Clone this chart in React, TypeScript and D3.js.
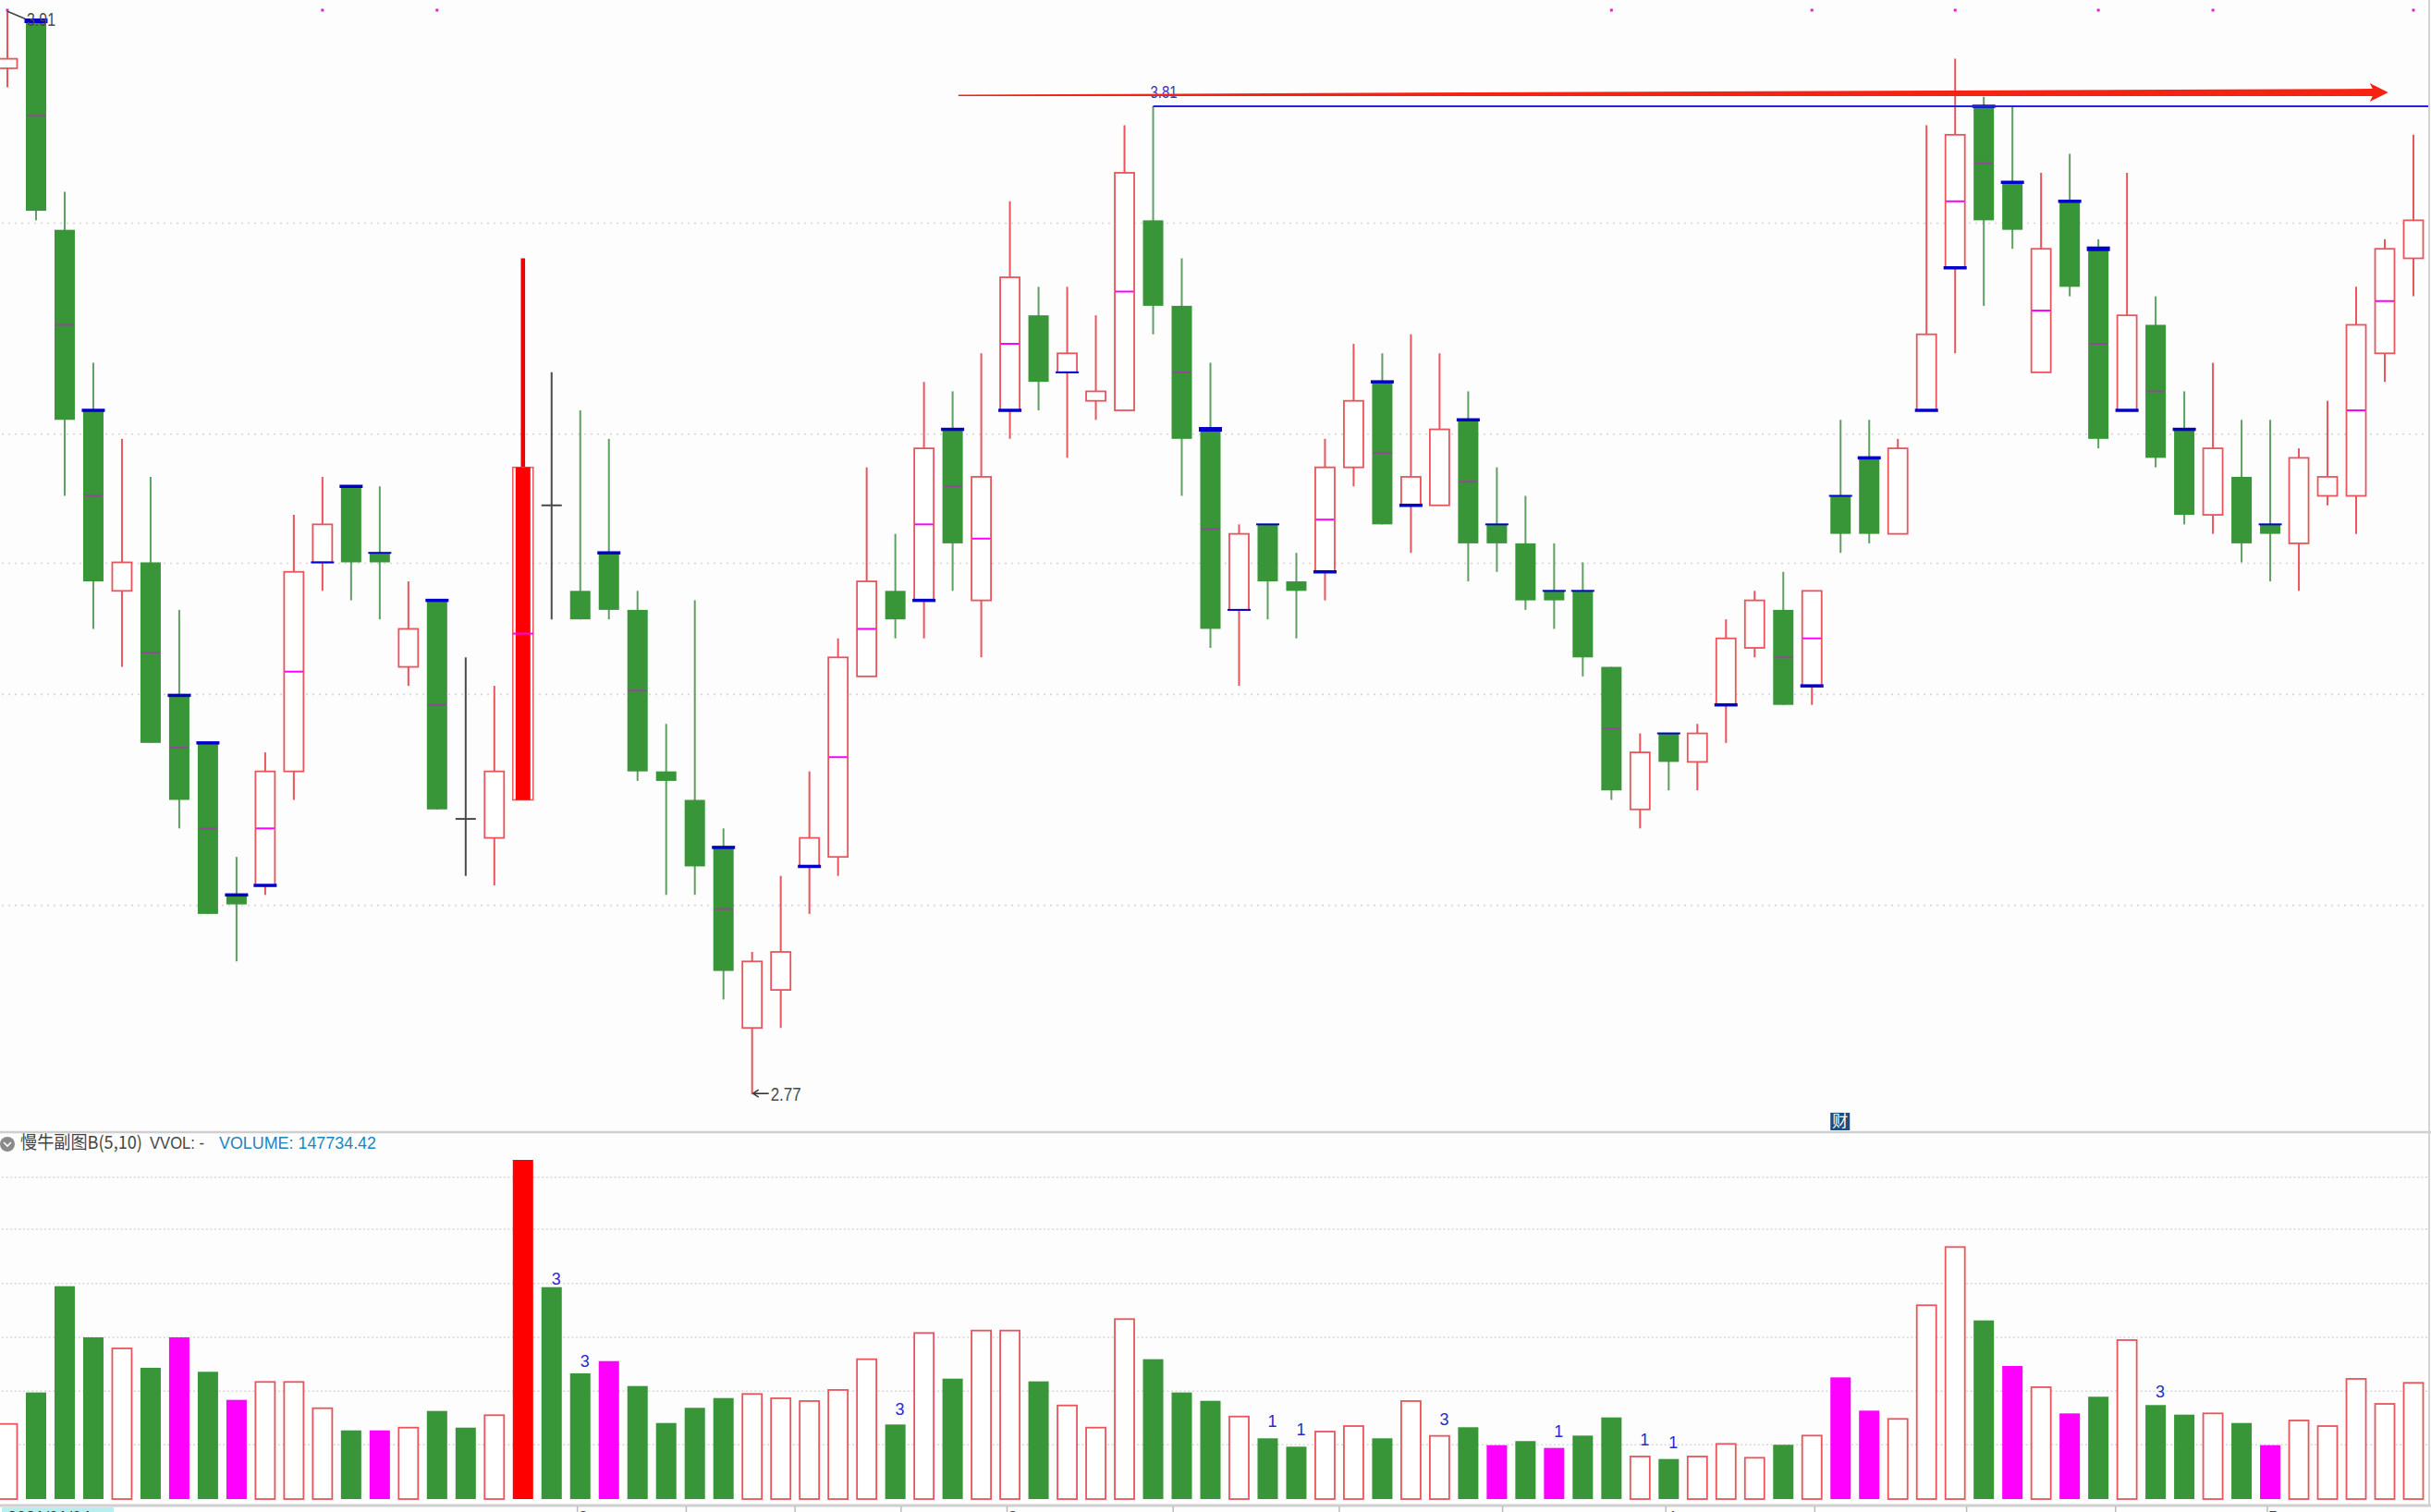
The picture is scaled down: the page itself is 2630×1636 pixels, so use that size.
import React from 'react';
import * as d3 from 'd3';

// daily bars (cents)
const opens = [3.85,3.90,3.68,3.49,3.30,3.33,3.19,3.14,2.98,2.99,3.11,3.33,3.41,3.34,3.22,3.29,3.06,3.04,3.08,3.39,3.30,3.34,3.28,3.11,3.08,3.03,2.84,2.88,3.01,3.02,3.21,3.30,3.29,3.47,3.29,3.49,3.59,3.53,3.50,3.49,3.69,3.60,3.47,3.28,3.37,3.31,3.32,3.43,3.52,3.39,3.39,3.48,3.37,3.35,3.30,3.30,3.22,3.07,3.15,3.12,3.18,3.24,3.28,3.20,3.40,3.44,3.36,3.49,3.64,3.81,3.73,3.53,3.71,3.66,3.49,3.58,3.47,3.38,3.42,3.37,3.35,3.40,3.40,3.55,3.65];
const closes = [3.86,3.70,3.48,3.31,3.33,3.14,3.08,2.96,2.97,3.11,3.32,3.37,3.33,3.33,3.26,3.07,3.06,3.11,3.43,3.39,3.27,3.28,3.11,3.10,3.01,2.90,2.91,2.92,3.04,3.23,3.31,3.27,3.45,3.35,3.42,3.63,3.52,3.55,3.51,3.74,3.60,3.46,3.26,3.36,3.31,3.30,3.43,3.50,3.37,3.42,3.47,3.35,3.35,3.29,3.29,3.23,3.09,3.13,3.12,3.15,3.25,3.29,3.18,3.30,3.36,3.36,3.45,3.57,3.78,3.69,3.68,3.66,3.62,3.46,3.59,3.44,3.38,3.45,3.35,3.36,3.44,3.42,3.58,3.66,3.69];
const highs = [3.91,3.90,3.72,3.54,3.46,3.42,3.28,3.14,3.02,3.13,3.38,3.42,3.41,3.41,3.31,3.29,3.23,3.20,3.65,3.53,3.49,3.46,3.30,3.16,3.29,3.05,2.92,3.00,3.11,3.25,3.43,3.36,3.52,3.51,3.55,3.71,3.62,3.62,3.59,3.79,3.81,3.65,3.54,3.37,3.37,3.34,3.46,3.56,3.55,3.57,3.55,3.51,3.43,3.40,3.35,3.33,3.22,3.15,3.15,3.16,3.27,3.30,3.32,3.30,3.48,3.48,3.46,3.79,3.86,3.82,3.81,3.74,3.76,3.67,3.74,3.61,3.51,3.54,3.48,3.48,3.45,3.50,3.62,3.67,3.78];
const lows = [3.83,3.69,3.40,3.26,3.22,3.14,3.05,2.96,2.91,2.98,3.08,3.30,3.29,3.27,3.20,3.07,3.00,2.99,3.08,3.27,3.27,3.27,3.10,2.98,2.98,2.87,2.77,2.84,2.96,3.00,3.21,3.25,3.25,3.30,3.23,3.46,3.49,3.44,3.48,3.49,3.57,3.40,3.24,3.20,3.27,3.25,3.29,3.41,3.37,3.34,3.39,3.31,3.32,3.28,3.26,3.21,3.08,3.05,3.09,3.09,3.14,3.23,3.18,3.18,3.34,3.35,3.36,3.49,3.55,3.60,3.66,3.53,3.61,3.45,3.49,3.43,3.37,3.36,3.33,3.31,3.30,3.39,3.36,3.52,3.61];
const volumes = [95500,135500,270600,205600,191500,166900,205600,161800,126100,148900,148900,115500,87300,87300,90800,112000,90800,106600,431200,269400,159800,175400,143700,96700,116000,128400,133600,128100,124600,138700,177800,94800,211100,153100,214200,214200,149600,119000,90800,228800,177800,135500,124900,104900,77200,66600,85800,92800,77200,124600,80300,91300,68500,73700,65000,80700,103800,54100,50900,54100,70100,52500,69000,80700,154700,112400,101900,246400,320400,227100,169200,142200,108900,130100,202100,119500,107300,108900,96700,68500,99900,92800,152800,121000,147734];

const midBars = [1,2,3,5,6,7,9,10,15,18,22,25,29,30,32,33,34,35,39,41,42,46,48,51,56,62,63,68,69,71,73,75,82,83];
const capBars = [1,3,6,7,8,9,11,12,13,15,21,25,28,32,33,35,37,42,43,44,46,48,49,51,52,54,55,58,60,63,64,65,67,68,69,70,72,73,74,76,79];
const thinCaps = [11,13,37,43,44,52,54,55,58,64,79];
const thickCaps = [1,42,73];
const dotBars = [0,11,15,56,63,68,73,77,84];
const magentaVolBars = [6,8,13,21,52,54,64,65,70,72,79];
const strongBar = 18;

const volMarks: [number, string, number][] = [
  [19,'3',10],[20,'3',14],[31,'3',17],[44,'1',19],[45,'1',19],[50,'3',19],[54,'1',19],[57,'1',19],[58,'1',19],[75,'3',15]
];

const priceGrid = [3.687,3.465,3.329,3.191,2.969];
const volGrid = [69000,137100,205600,274100,343100,409200];
const dateTicks = [19.9,23.7,27.5,31.2,34.9,40.7,46.5,52.2,57.9,63.1,68.4,73.6,78.9];
const monthLabels: [number, string][] = [[19.9,'2'],[34.9,'3'],[57.9,'4'],[78.9,'5']];

const W = 2630;
const H = 1636;
const GREEN = '#389638';
const GREEN_WICK = '#5f9f62';
const RED_LINE = '#e9555c';
const BLUE = '#0000c8';
const FONT = '"Liberation Sans", Arial, sans-serif';

const x = d3.scaleLinear().domain([0, 84]).range([8, 2611]);
const y = d3.scaleLinear().domain([2.77, 3.91]).range([1184.2, 12.2]);
const yVol = d3.scaleLinear().domain([0, 431200]).range([1622, 1255]);

const BODY = 22;

function arrowPath() {
  // tapered annotation arrow, from 3.82 up to the right
  const x0 = x(33.2), y0 = y(3.8215);
  const x1 = x(83.12), y1 = y(3.8246);
  const headX = x1 - 17;
  const t = d3.scaleLinear().domain([x0, x1]).range([y0, y1]);
  return `M${x0},${y0 - 0.8}L${headX},${t(headX) - 4}L${headX - 3},${t(headX) - 10}L${x1},${y1}L${headX - 3},${t(headX) + 10}L${headX},${t(headX) + 4}L${x0},${y0 + 0.8}Z`;
}

const App: React.FC = () => {
  return (
    <svg
      width={W}
      height={H}
      viewBox={`0 0 ${W} ${H}`}
      style={{ position: 'fixed', left: 0, top: 0, background: '#fdfdfd' }}
      fontFamily={FONT}
    >
      {/* grids */}
      {priceGrid.map(p => (
        <line key={p} x1={2} x2={W - 2} y1={y(p)} y2={y(p)} stroke="#d6d6d6" strokeWidth={1.6} strokeDasharray="2 5" />
      ))}
      {volGrid.map(v => (
        <line key={v} x1={2} x2={W - 2} y1={yVol(v)} y2={yVol(v)} stroke="#d8d8d8" strokeWidth={1.6} strokeDasharray="2 2.6" />
      ))}

      {/* panel separators */}
      <line x1={0} x2={W} y1={1225} y2={1225} stroke="#cfcfcf" strokeWidth={2.5} />
      <line x1={0} x2={W} y1={1629} y2={1629} stroke="#cfcfcf" strokeWidth={3} />
      <line x1={2628} x2={2628} y1={0} y2={1629} stroke="#d4d4d4" strokeWidth={2} />

      {/* top dots */}
      {dotBars.map(i => (
        <rect key={i} x={x(i) - 1.5} y={9.5} width={3} height={3} fill="#e020d0" />
      ))}

      {/* candles */}
      {opens.map((o, i) => {
        const c = closes[i];
        const cx = x(i);
        const top = y(Math.max(o, c));
        const bot = y(Math.min(o, c));
        if (o === c) {
          return (
            <g key={i} stroke="#4a4a4a" strokeWidth={2}>
              <line x1={cx} x2={cx} y1={y(highs[i])} y2={y(lows[i])} />
              <line x1={cx - BODY / 2} x2={cx + BODY / 2} y1={top} y2={top} />
            </g>
          );
        }
        const up = c > o;
        if (i === strongBar) {
          return (
            <g key={i}>
              <line x1={cx} x2={cx} y1={y(highs[i])} y2={top} stroke="#ee0000" strokeWidth={4.6} />
              <rect x={cx - BODY / 2} y={top} width={BODY} height={bot - top} fill="#fff" stroke={RED_LINE} strokeWidth={1.5} />
              <rect x={cx - BODY / 2 + 3} y={top} width={BODY - 6} height={bot - top} fill="#ff0000" />
            </g>
          );
        }
        return (
          <g key={i}>
            <line x1={cx} x2={cx} y1={y(highs[i])} y2={y(lows[i])} stroke={up ? RED_LINE : GREEN_WICK} strokeWidth={2} />
            {up ? (
              <rect x={cx - BODY / 2 + 0.5} y={top} width={BODY - 1} height={bot - top} fill="#fff" stroke={RED_LINE} strokeWidth={1.8} />
            ) : (
              <rect x={cx - BODY / 2} y={top} width={BODY} height={Math.max(bot - top, 2)} fill={GREEN} />
            )}
            {midBars.includes(i) && (
              <line x1={cx - BODY / 2 + 1} x2={cx + BODY / 2 - 1} y1={(top + bot) / 2} y2={(top + bot) / 2}
                stroke={up || i === strongBar ? '#ff00ff' : '#8e4c90'} strokeWidth={2} />
            )}
            {capBars.includes(i) && (
              <line x1={cx - 12.5} x2={cx + 12.5} y1={y(o)} y2={y(o)} stroke={BLUE}
                strokeWidth={thinCaps.includes(i) ? 2 : thickCaps.includes(i) ? 5 : 3.5} />
            )}
          </g>
        );
      })}
      <line x1={x(strongBar) - 11} x2={x(strongBar) + 11} y1={(y(opens[strongBar]) + y(closes[strongBar])) / 2} y2={(y(opens[strongBar]) + y(closes[strongBar])) / 2} stroke="#ff00ff" strokeWidth={2} />

      {/* high / low labels */}
      <line x1={x(0)} x2={x(0) + 19} y1={y(3.91)} y2={y(3.91) + 8} stroke="#444" strokeWidth={1.5} />
      <text x={29} y={28} fontSize={20} fill="#4a4a4a" textLength={31} lengthAdjust="spacingAndGlyphs">3.91</text>
      <line x1={x(26) + 1} x2={x(26) + 18} y1={y(2.77) - 1} y2={y(2.77) - 1} stroke="#333" strokeWidth={1.6} />
      <path d={`M${x(26) + 1},${y(2.77) - 1}l6,-4M${x(26) + 1},${y(2.77) - 1}l6,4`} stroke="#333" strokeWidth={1.4} fill="none" />
      <text x={x(26) + 20} y={y(2.77) + 7} fontSize={20} fill="#4a4a4a" textLength={33} lengthAdjust="spacingAndGlyphs">2.77</text>

      {/* resistance line from the 3.81 high */}
      <line x1={x(40)} x2={2627} y1={y(3.81)} y2={y(3.81)} stroke="#2222dd" strokeWidth={1.8} />
      <text x={x(40) - 3} y={y(3.81) - 9} fontSize={18} fill="#3333c8" textLength={29} lengthAdjust="spacingAndGlyphs">3.81</text>
      <path d={arrowPath()} fill="#f52314" />

      {/* badge */}
      <rect x={x(64) - 11} y={1204} width={21} height={19} fill="#1d4d7e" />
      <text x={x(64) - 0.5} y={1219} fontSize={17} fill="#fff" textAnchor="middle" fontFamily='"Noto Sans CJK SC"'>财</text>

      {/* volume legend */}
      <circle cx={8} cy={1238} r={8} fill="#8a8a8a" />
      <path d="M4,1236l4,4l4,-4" fill="none" stroke="#fff" strokeWidth={1.6} />
      <text x={22} y={1243} fontSize={19} fill="#444" fontFamily='"Noto Sans CJK SC"' textLength={132} lengthAdjust="spacingAndGlyphs">慢牛副图B(5,10)</text>
      <text x={162} y={1243} fontSize={19} fill="#444" textLength={59} lengthAdjust="spacingAndGlyphs">VVOL: -</text>
      <text x={237} y={1243} fontSize={19} fill="#1a85c0" textLength={170} lengthAdjust="spacingAndGlyphs">VOLUME: 147734.42</text>

      {/* volume bars */}
      {volumes.map((v, i) => {
        const cx = x(i);
        const t = yVol(v);
        const up = closes[i] > opens[i];
        if (i === strongBar) {
          return <rect key={i} x={cx - BODY / 2} y={t} width={BODY} height={yVol(0) - t} fill="#ff0000" />;
        }
        if (magentaVolBars.includes(i)) {
          return <rect key={i} x={cx - BODY / 2} y={t} width={BODY} height={yVol(0) - t} fill="#ff00ff" />;
        }
        return up ? (
          <rect key={i} x={cx - BODY / 2 + 0.5} y={t} width={BODY - 1} height={yVol(0) - t} fill="#fff" stroke={RED_LINE} strokeWidth={1.8} />
        ) : (
          <rect key={i} x={cx - BODY / 2} y={t} width={BODY} height={yVol(0) - t} fill={GREEN} />
        );
      })}
      {volMarks.map(([i, s, gap]) => (
        <text key={i} x={x(i) + 5} y={yVol(volumes[i]) - gap + 7} fontSize={18} fill="#2a2ad0" textAnchor="middle">{s}</text>
      ))}

      {/* date axis, cut by the window edge */}
      <rect x={2} y={1631} width={121} height={6} fill="#b8eeee" />
      <text x={8} y={1648} fontSize={18} fill="#333">2021/01/04</text>
      {dateTicks.map(t => (
        <line key={t} x1={x(t)} x2={x(t)} y1={1630} y2={1636} stroke="#bbb" strokeWidth={1.5} />
      ))}
      {monthLabels.map(([t, s]) => (
        <text key={s} x={x(t) + 6} y={1648} fontSize={18} fill="#444" textAnchor="middle">{s}</text>
      ))}
    </svg>
  );
};

export default App;
